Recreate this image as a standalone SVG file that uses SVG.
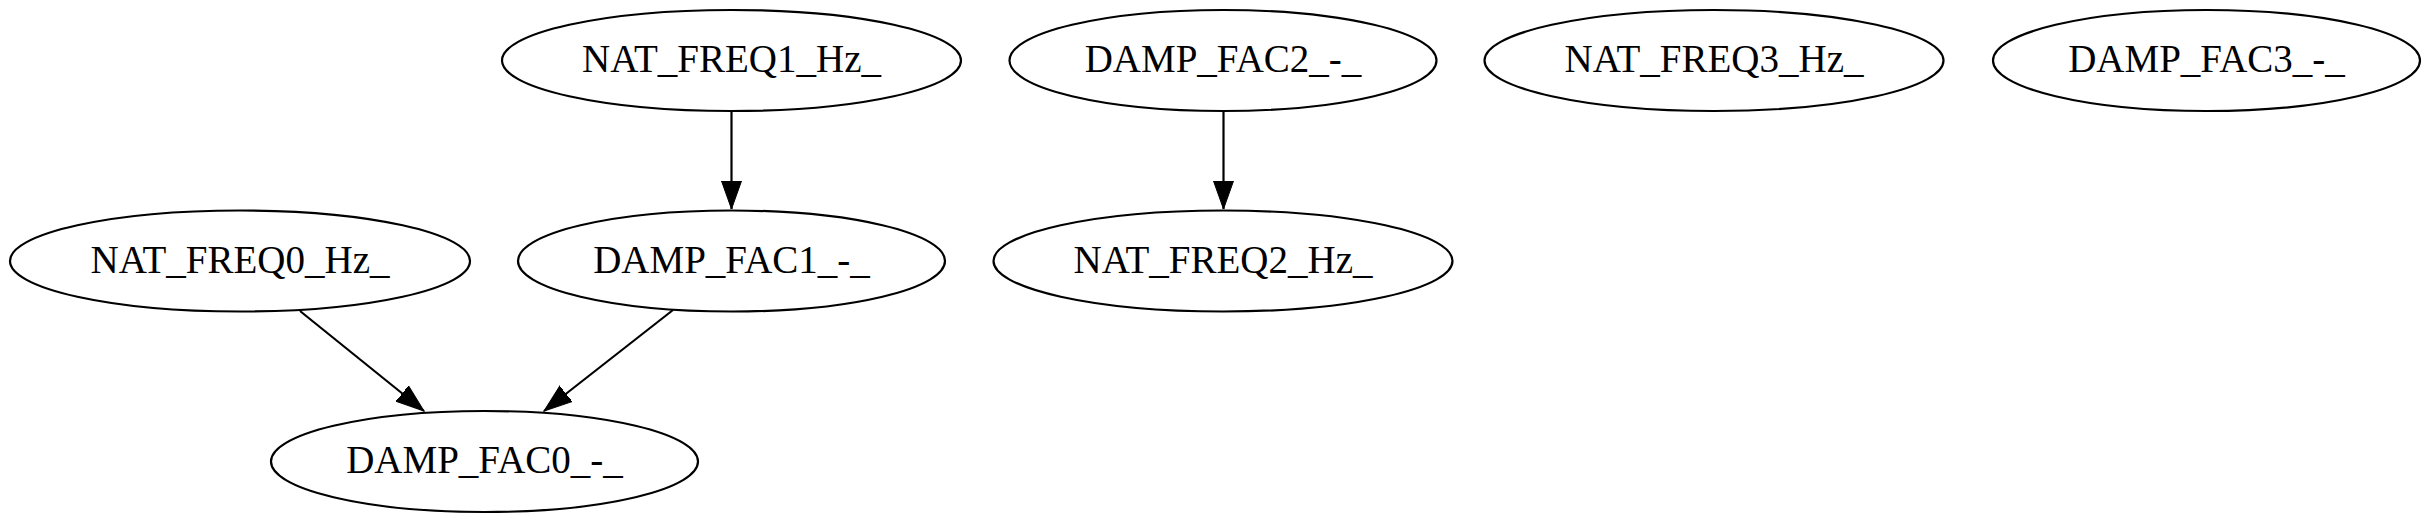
<svg xmlns="http://www.w3.org/2000/svg" width="2431" height="522" viewBox="0 0 2431 522">
<style>
.node ellipse{fill:none;stroke:#000;stroke-width:2.2}
.node text{font-family:"Liberation Serif","Times New Roman",serif;font-size:39px;text-anchor:middle;fill:#000}
.edge{stroke:#000;stroke-width:2.2;fill:none}
</style>
<defs>
<marker id="arr" markerUnits="userSpaceOnUse" markerWidth="30" markerHeight="24" refX="28" refY="10" orient="auto" viewBox="0 0 30 20">
<path d="M0,0 L28,10 L0,20 z" fill="#000" stroke="#000" stroke-width="1"/>
</marker>
</defs>
<rect width="2431" height="522" fill="#fff"/>
<g id="edges">
<line class="edge" x1="731.5" y1="111" x2="731.5" y2="209" marker-end="url(#arr)"/>
<line class="edge" x1="300" y1="311" x2="424" y2="411" marker-end="url(#arr)"/>
<line class="edge" x1="673" y1="310" x2="544" y2="411" marker-end="url(#arr)"/>
<line class="edge" x1="1223.5" y1="111" x2="1223.5" y2="209" marker-end="url(#arr)"/>
</g>
<g id="NAT_FREQ1_Hz_" class="node"><ellipse cx="731.5" cy="60.5" rx="229.5" ry="50.5"/><text x="731.5" y="72">NAT_FREQ1_Hz_</text></g>
<g id="NAT_FREQ0_Hz_" class="node"><ellipse cx="240" cy="261" rx="230" ry="50.5"/><text x="240" y="272.5">NAT_FREQ0_Hz_</text></g>
<g id="DAMP_FAC1_-_" class="node"><ellipse cx="731.5" cy="261" rx="213.5" ry="50.5"/><text x="731.5" y="272.5">DAMP_FAC1_-_</text></g>
<g id="DAMP_FAC0_-_" class="node"><ellipse cx="484.5" cy="461.5" rx="213.5" ry="50.5"/><text x="484.5" y="473">DAMP_FAC0_-_</text></g>
<g id="DAMP_FAC2_-_" class="node"><ellipse cx="1223" cy="60.5" rx="213.5" ry="50.5"/><text x="1223" y="72">DAMP_FAC2_-_</text></g>
<g id="NAT_FREQ2_Hz_" class="node"><ellipse cx="1223" cy="261" rx="229.5" ry="50.5"/><text x="1223" y="272.5">NAT_FREQ2_Hz_</text></g>
<g id="NAT_FREQ3_Hz_" class="node"><ellipse cx="1714" cy="60.5" rx="229.5" ry="50.5"/><text x="1714" y="72">NAT_FREQ3_Hz_</text></g>
<g id="DAMP_FAC3_-_" class="node"><ellipse cx="2206.5" cy="60.5" rx="213.5" ry="50.5"/><text x="2206.5" y="72">DAMP_FAC3_-_</text></g>
</svg>
